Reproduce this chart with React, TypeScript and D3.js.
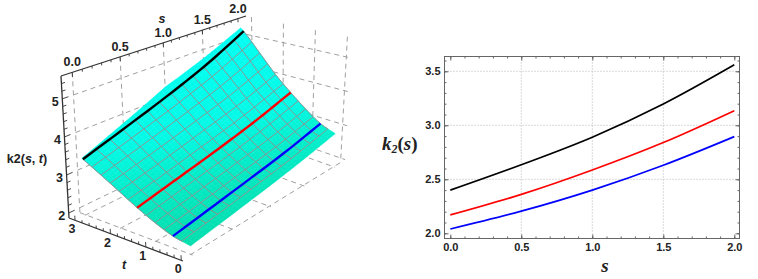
import React, { useEffect, useRef } from 'react';
import * as d3 from 'd3';

// curves on the right panel
const sValues = [0, 0.5, 1, 1.5, 2];
const blackK2 = [2.4, 2.635, 2.89, 3.197, 3.56];
const redK2 = [2.17, 2.36, 2.586, 2.84, 3.135];
const blueK2 = [2.04, 2.205, 2.4, 2.63, 2.895];

// surface heights, one list per s column, read along tGrid
const tGrid = [0, 0.5, 1, 1.5, 2, 2.5, 3, 3.3];
const zAtS0 = [2.07, 2.15, 2.32, 2.54, 2.8, 3.07, 3.34, 3.5];
const zAtS05 = [2.23, 2.33, 2.53, 2.78, 3.07, 3.4, 3.74, 3.94];
const zAtS1 = [2.4, 2.52, 2.75, 3.03, 3.37, 3.76, 4.16, 4.4];
const zAtS15 = [2.6, 2.73, 2.99, 3.32, 3.69, 4.16, 4.64, 4.92];
const zAtS2 = [2.84, 3.0, 3.3, 3.67, 4.1, 4.65, 5.23, 5.5];
const zColumns = [zAtS0, zAtS05, zAtS1, zAtS15, zAtS2];

// t values of the three curves on the surface
const curveT = [3, 1.5, 0.5];
const curveColors = ['#000000', '#ff0000', '#0000ff'];

const sTicks = [0, 0.5, 1, 1.5, 2];
const tTicks = [0, 1, 2, 3];
const zTicks = [2, 3, 4, 5];
const yTicks = [2, 2.5, 3, 3.5];

const FONT = '"Liberation Sans", Arial, sans-serif';
const SERIF = '"Liberation Serif", serif';

// cubic through table values, keeps the surface free of kinks
const spline = (xs: number[], ys: number[], x: number) => {
  const n = xs.length;
  let i = 0;
  while (i < n - 2 && x > xs[i + 1]) i++;
  const slope = (k: number) => {
    const a = Math.max(k - 1, 0);
    const b = Math.min(k + 1, n - 1);
    return (ys[b] - ys[a]) / (xs[b] - xs[a]);
  };
  const h = xs[i + 1] - xs[i];
  const p = (x - xs[i]) / h;
  return (
    (2 * p ** 3 - 3 * p ** 2 + 1) * ys[i] +
    (p ** 3 - 2 * p ** 2 + p) * h * slope(i) +
    (-2 * p ** 3 + 3 * p ** 2) * ys[i + 1] +
    (p ** 3 - p ** 2) * h * slope(i + 1)
  );
};

const App = () => {
  const svgRef = useRef<SVGSVGElement>(null);

  useEffect(() => {
    const svg = d3.select(svgRef.current);
    svg.selectAll('*').remove();

    // ---------- 3D panel ----------
    const sMin = -0.11, sMax = 2.12, tBack = 3.17, tFront = -0.05, zMin = 1.87, zMax = 5.6;

    const xFrac = d3.scaleLinear().domain([sMin, sMax]).range([0, 1]);
    const persp = 0.247; // foreshortening along s
    const uScale = (s: number) => {
      const q = xFrac(s);
      return (q * (1 + persp)) / (1 + persp * q);
    };
    const vScale = d3.scaleLinear().domain([tBack, tFront]).range([0, 1]);
    const wScale = d3.scaleLinear().domain([zMin, zMax]).range([0, 1]);

    // box corners on screen, indexed [u][v][w]
    const box = [
      [[[69, 218], [61, 76]], [[183, 261], [176, 100]]],
      [[[249, 130], [246, 16]], [[342, 163], [349, 37]]],
    ];
    const project = (s: number, t: number, z: number): [number, number] => {
      const u = uScale(s), v = vScale(t), w = wScale(z);
      const at = (i: number) =>
        (1 - u) * ((1 - v) * ((1 - w) * box[0][0][0][i] + w * box[0][0][1][i]) + v * ((1 - w) * box[0][1][0][i] + w * box[0][1][1][i])) +
        u * ((1 - v) * ((1 - w) * box[1][0][0][i] + w * box[1][0][1][i]) + v * ((1 - w) * box[1][1][0][i] + w * box[1][1][1][i]));
      return [at(0), at(1)];
    };
    const surfaceZ = (s: number, t: number) => {
      const col = zColumns.map((c) => spline(tGrid, c, t));
      return spline(sValues, col, s);
    };

    const left = svg.append('g');
    const path = d3.line();

    const addLine = (g: any, pts: [number, number][], color: string, width: number, dash?: string) =>
      g.append('path')
        .attr('d', path(pts))
        .attr('fill', 'none')
        .attr('stroke', color)
        .attr('stroke-width', width)
        .attr('stroke-dasharray', dash || null);

    // Dashed face grids
    const gridColor = '#a0a0a0';
    const dash = '5 4';
    const grid = left.append('g');
    // back wall
    sTicks.slice(0, 4).forEach((s) => addLine(grid, [project(s, tBack, zMax), project(s, tBack, zMin)], gridColor, 1, dash));
    zTicks.forEach((z) => addLine(grid, [project(0, tBack, z), project(sMax, tBack, z)], gridColor, 1, dash));
    // right wall
    tTicks.forEach((t) => addLine(grid, [project(sMax, t, zMax), project(sMax, t, zMin)], gridColor, 1, dash));
    zTicks.forEach((z) => addLine(grid, [project(sMax, tBack, z), project(sMax, tFront - 0.1, z)], gridColor, 1, dash));
    // floor
    sTicks.forEach((s) => addLine(grid, [project(s, tBack, zMin), project(s, tFront, zMin)], gridColor, 1, dash));
    tTicks.forEach((t) => addLine(grid, [project(sMin + 0.1, t, zMin), project(sMax, t, zMin)], gridColor, 1, dash));

    // Surface
    const surfaceColor = d3.scaleLinear<string>().domain([2, 2.6, 3.4, 5]).range(['#00dcaa', '#00eac4', '#00fae6', '#00fff2']);
    const tEnd = d3.scaleLinear().domain([0, 1, 2]).range([3.03, 3.17, 3.09]);
    const surface = left.append('g');
    const sCells = d3.range(0, 2, 0.05);
    const tFracs = d3.range(0, 1, 0.025);
    sCells.forEach((s) => {
      const s2 = Math.min(s + 0.05, 2);
      tFracs.forEach((f) => {
        const f2 = f + 0.025;
        const corners: [number, number][] = [
          [s, f * tEnd(s)], [s2, f * tEnd(s2)], [s2, f2 * tEnd(s2)], [s, f2 * tEnd(s)],
        ];
        const pts = corners.map(([a, b]) => project(a, b, surfaceZ(a, b)));
        const c = surfaceColor(surfaceZ(s, f * tEnd(s)));
        surface.append('path')
          .attr('d', path(pts) + 'Z')
          .attr('fill', c)
          .attr('stroke', c)
          .attr('stroke-width', 0.5);
      });
    });

    // Mesh
    const meshColor = '#8f9494';
    const meshS = d3.range(0, 2.01, 2 / 14);
    const meshT = d3.range(0.25, 3.01, 0.25);
    const fine = d3.range(0, 1.001, 0.04);
    meshT.forEach((t) => {
      addLine(surface, fine.map((f) => project(f * 2, t, surfaceZ(f * 2, t))), meshColor, 1);
    });
    meshS.forEach((s) => {
      addLine(surface, fine.map((f) => {
        const t = 0.25 + f * 2.75;
        return project(s, t, surfaceZ(s, t));
      }), meshColor, 1);
    });

    // Curves on the surface
    curveT.forEach((t, i) => {
      addLine(left, fine.map((f) => project(f * 2, t, surfaceZ(f * 2, t))), curveColors[i], 2.4);
    });

    // Box axes
    const axisColor = '#333333';
    addLine(left, [project(sMin, tBack, zMax), project(sMin, tBack, zMin)], axisColor, 1.3);
    addLine(left, [project(sMin, tBack, zMax), project(sMax, tBack, zMax)], axisColor, 1.3);
    addLine(left, [project(sMin, tBack, zMin), project(sMin, tFront, zMin)], axisColor, 1.3);

    d3.range(0, 2.01, 0.1).forEach((s) => {
      const major = sTicks.some((m) => Math.abs(m - s) < 1e-6);
      addLine(left, [project(s, tBack, zMax), project(s, tBack, zMax - (major ? 0.12 : 0.07))], axisColor, 0.9);
    });
    d3.range(2, 5.41, 0.2).forEach((z) => {
      const major = zTicks.some((m) => Math.abs(m - z) < 1e-6);
      addLine(left, [project(sMin, tBack, z), project(sMin + (major ? 0.06 : 0.035), tBack, z)], axisColor, 0.9);
    });
    d3.range(0, 3.01, 0.2).forEach((t) => {
      const major = tTicks.some((m) => Math.abs(m - t) < 1e-6);
      addLine(left, [project(sMin, t, zMin), project(sMin, t, zMin + (major ? 0.12 : 0.07))], axisColor, 0.9);
    });

    const label3d = (x: number, y: number, txt: string) =>
      left.append('text')
        .attr('x', x).attr('y', y)
        .attr('text-anchor', 'middle')
        .attr('font-family', FONT)
        .attr('font-weight', 'bold')
        .attr('font-size', 12.5)
        .attr('fill', '#222')
        .text(txt);

    sTicks.forEach((s) => {
      const [x, y] = project(s, tBack, zMax);
      label3d(x, y - 6, s.toFixed(1));
    });
    zTicks.forEach((z) => {
      const [x, y] = project(sMin, tBack, z);
      label3d(x - 7, y + 7, String(z));
    });
    tTicks.forEach((t) => {
      const [x, y] = project(sMin, t, zMin);
      label3d(x - 3, y + 13, String(t));
    });
    label3d(162, 23, 's').attr('font-style', 'italic');
    label3d(124, 269, 't').attr('font-style', 'italic');
    const zTitle = label3d(27, 163, 'k2(');
    zTitle.append('tspan').attr('font-style', 'italic').text('s');
    zTitle.append('tspan').text(', ');
    zTitle.append('tspan').attr('font-style', 'italic').text('t');
    zTitle.append('tspan').text(')');

    // ---------- 2D panel ----------
    const frame = { left: 444.5, right: 739.5, top: 56.5, bottom: 238.5 };
    const x = d3.scaleLinear().domain([0, 2]).range([450.3, 734.3]);
    const y = d3.scaleLinear().domain([2, 3.5]).range([233.3, 71.3]);
    const right = svg.append('g');

    // dotted grid
    sTicks.slice(1, 4).forEach((s) =>
      right.append('line')
        .attr('x1', x(s)).attr('x2', x(s))
        .attr('y1', frame.top).attr('y2', frame.bottom)
        .attr('stroke', '#b4b4b4').attr('stroke-dasharray', '1 2'));
    yTicks.slice(1).forEach((v) =>
      right.append('line')
        .attr('x1', frame.left).attr('x2', frame.right)
        .attr('y1', y(v)).attr('y2', y(v))
        .attr('stroke', '#b4b4b4').attr('stroke-dasharray', '1 2'));

    const styleAxis = (g: any) => {
      g.select('.domain').remove();
      g.selectAll('line').attr('stroke', '#555').attr('stroke-width', 0.9);
      g.selectAll('text')
        .attr('font-family', FONT)
        .attr('font-weight', 'bold')
        .attr('font-size', 11)
        .attr('fill', '#222');
    };
    const xMinor = d3.range(0, 2.01, 0.1);
    const yMinor = d3.range(2, 3.61, 0.1);
    const axisRows: [any, string][] = [
      [d3.axisBottom(x).tickValues(xMinor).tickSize(-2).tickFormat(() => ''), `translate(0,${frame.bottom})`],
      [d3.axisBottom(x).tickValues(sTicks).tickSize(-4).tickPadding(5).tickFormat(d3.format('.1f')), `translate(0,${frame.bottom})`],
      [d3.axisTop(x).tickValues(xMinor).tickSize(-2).tickFormat(() => ''), `translate(0,${frame.top})`],
      [d3.axisTop(x).tickValues(sTicks).tickSize(-4).tickFormat(() => ''), `translate(0,${frame.top})`],
      [d3.axisLeft(y).tickValues(yMinor).tickSize(-2).tickFormat(() => ''), `translate(${frame.left},0)`],
      [d3.axisLeft(y).tickValues(yTicks).tickSize(-4).tickPadding(4).tickFormat(d3.format('.1f')), `translate(${frame.left},0)`],
      [d3.axisRight(y).tickValues(yMinor).tickSize(-2).tickFormat(() => ''), `translate(${frame.right},0)`],
      [d3.axisRight(y).tickValues(yTicks).tickSize(-4).tickFormat(() => ''), `translate(${frame.right},0)`],
    ];
    axisRows.forEach(([axis, tr]) => {
      right.append('g').attr('transform', tr).call(axis).call(styleAxis);
    });

    right.append('rect')
      .attr('x', frame.left).attr('y', frame.top)
      .attr('width', frame.right - frame.left).attr('height', frame.bottom - frame.top)
      .attr('fill', 'none').attr('stroke', '#666').attr('stroke-width', 1);

    const k2Line = d3.line<number>()
      .x((_, i) => x(sValues[i]))
      .y((d) => y(d))
      .curve(d3.curveCatmullRom);
    [blackK2, redK2, blueK2].forEach((vals, i) => {
      right.append('path')
        .attr('d', k2Line(vals))
        .attr('fill', 'none')
        .attr('stroke', curveColors[i])
        .attr('stroke-width', 1.7);
    });

    // Axis titles
    const yTitle = right.append('text')
      .attr('x', 382).attr('y', 150)
      .attr('font-family', SERIF)
      .attr('font-weight', 'bold')
      .attr('font-style', 'italic')
      .attr('font-size', 19)
      .attr('fill', '#222');
    yTitle.append('tspan').text('k');
    yTitle.append('tspan').attr('font-size', 12).attr('dy', 3).text('2');
    yTitle.append('tspan').attr('dy', -3).attr('font-style', 'normal').text('(');
    yTitle.append('tspan').text('s');
    yTitle.append('tspan').attr('font-style', 'normal').text(')');

    right.append('text')
      .attr('x', 605).attr('y', 272)
      .attr('text-anchor', 'middle')
      .attr('font-family', SERIF)
      .attr('font-weight', 'bold')
      .attr('font-style', 'italic')
      .attr('font-size', 19)
      .attr('fill', '#222')
      .text('s');
  }, []);

  return (
    <svg
      ref={svgRef}
      width={758}
      height={279}
      style={{ position: 'absolute', left: 0, top: 0, background: '#fff' }}
    />
  );
};

export default App;
